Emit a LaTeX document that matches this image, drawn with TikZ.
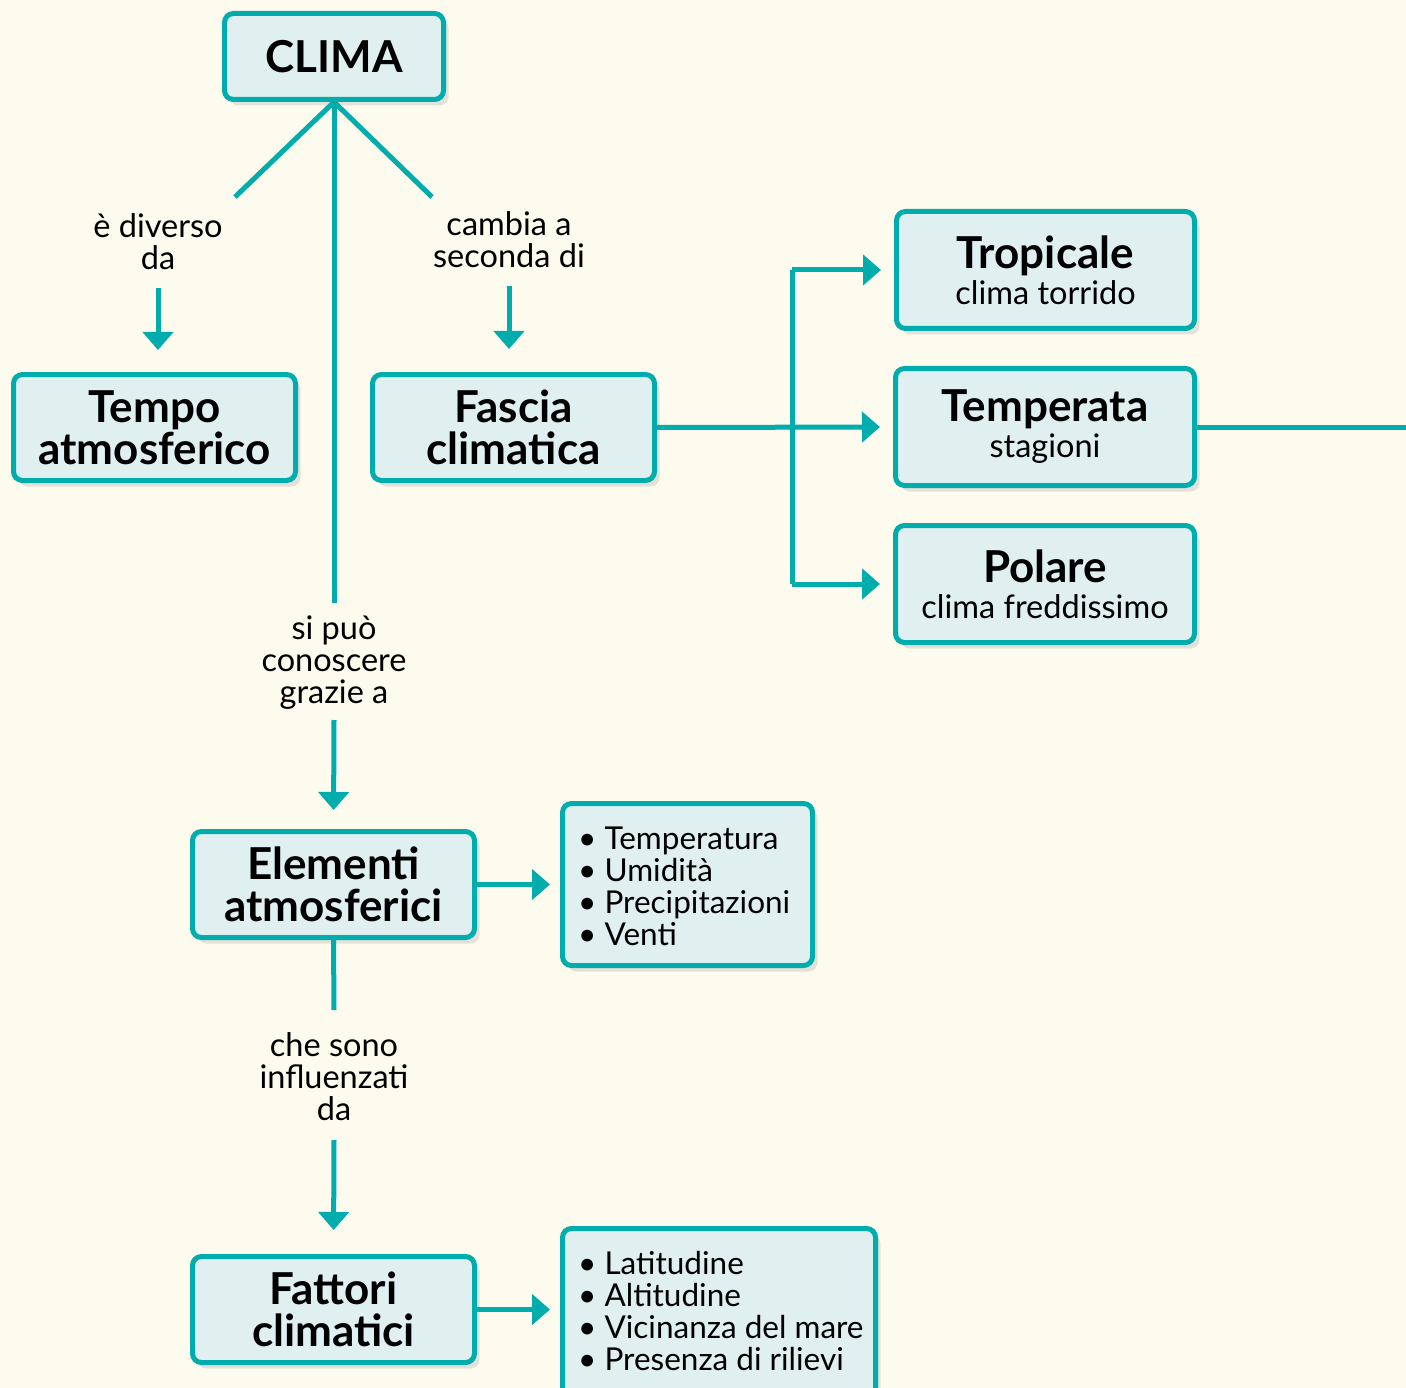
\documentclass[tikz,border=0pt]{standalone}
\usepackage{fontspec}
\setmainfont{Lato}
\usetikzlibrary{arrows.meta,shadows}
\definecolor{bg}{RGB}{253,251,238}
\definecolor{tl}{RGB}{0,172,172}
\definecolor{bf}{RGB}{224,239,239}
\begin{document}
\begin{tikzpicture}[x=1pt,y=-1pt,
 box/.style={draw=tl, fill=bf, line width=5pt, rounded corners=9pt, inner sep=0pt, align=center,
   drop shadow={opacity=0.2, shadow xshift=5pt, shadow yshift=-6pt}},
 conn/.style={draw=tl, line width=5pt},
 arr/.style={conn, -{Triangle[length=18pt,width=30pt]}},
 lab/.style={font=\fontsize{32.5}{32}\selectfont, align=center, inner sep=0pt},
 big/.style={font=\fontsize{44}{42}\selectfont\bfseries},
 lsttext/.style={align=left, inner sep=0pt, anchor=west, font=\fontsize{31.5}{32}\selectfont},
]
\fill[bg] (0,0) rectangle (1406,1388);
\path[use as bounding box] (0,0) rectangle (1406,1388);
\begin{scope}
\clip (0,0) rectangle (1406,1388);
% boxes
\node[box, minimum width=219pt, minimum height=86pt, font=\fontsize{44}{44}\selectfont\bfseries] (clima) at (334,56.5) {CLIMA};
\node[box, big, minimum width=282pt, minimum height=106pt] (tempo) at (154.5,427.5) {Tempo\\atmosferico};
\node[box, big, minimum width=282pt, minimum height=106pt] (fascia) at (513.5,427.5) {Fascia\\climatica};
\node[box, big, minimum width=298pt, minimum height=117pt] (trop) at (1045.5,270) {Tropicale\\[-6pt]{\fontsize{32.5}{35}\selectfont\mdseries clima torrido}};
\node[box, big, minimum width=299pt, minimum height=117pt] (temp) at (1045,427) {Temperata\\[-6pt]{\fontsize{32.5}{35}\selectfont\mdseries stagioni}};
\node[box, big, minimum width=299pt, minimum height=117pt] (pol) at (1045,584) {Polare\\[-6pt]{\fontsize{32.5}{35}\selectfont\mdseries clima freddissimo}};
\node[box, big, minimum width=282pt, minimum height=106pt] (elem) at (333.5,884.5) {Elementi\\atmosferici};
\node[box, big, minimum width=282pt, minimum height=106pt] (fatt) at (333.5,1309.5) {Fattori\\climatici};
\node[box, minimum width=250pt, minimum height=162pt] (list1) at (687.5,884.5) {};
\node[box, minimum width=313pt, minimum height=169pt] (list2) at (719,1313) {};
\node[lsttext] (t1) at (578,886) {• Temperatura\\• Umidità\\• Precipitazioni\\• Venti};
\node[lsttext] (t2) at (578,1311) {• Latitudine\\• Altitudine\\• Vicinanza del mare\\• Presenza di rilievi};
% labels
\node[lab] (l1) at (158,242) {è diverso\\da};
\node[lab] (l2) at (509,240) {cambia a\\seconda di};
\node[lab] (l3) at (334,663) {si può\\conoscere\\grazie a};
\node[lab] (l4) at (334,1077) {che sono\\influenzati\\da};
% coordinates
\coordinate (d1) at (235,197);
\coordinate (d2) at (432,197);
\coordinate (v1) at (334,603);
\coordinate (a1) at (158,288);
\coordinate (a2) at (509,286);
\coordinate (a3) at (334,720);
\coordinate (a4) at (334,1140);
\coordinate (e1) at (334,1010);
\coordinate (brt) at (792,270);
\coordinate (brb) at (792,584);
\coordinate (out) at (1420,427);
% connectors
\draw[conn] (clima.south) -- (d1);
\draw[conn] (clima.south) -- (d2);
\draw[conn] (clima.south) -- (v1);
\draw[arr, shorten >=22pt] (a1) -- (tempo.north -| a1);
\draw[arr, shorten >=23pt] (a2) -- (fascia.north -| a2);
\draw[arr, shorten >=19pt] (a3) -- (elem.north);
\draw[conn] (elem.south) -- (e1);
\draw[arr, shorten >=24pt] (a4) -- (fatt.north);
\draw[arr, shorten >=13pt] (fascia.east) -- (temp.west);
\draw[conn] (brt) -- (brb);
\draw[arr, shorten >=13pt] (brt) -- (trop.west);
\draw[arr, shorten >=13pt] (brb) -- (pol.west);
\draw[conn] (temp.east) -- (out);
\draw[arr, shorten >=10pt] (elem.east) -- (list1.west);
\draw[arr, shorten >=10pt] (fatt.east) -- (list2.west |- fatt.east);
\end{scope}
\end{tikzpicture}
\end{document}
